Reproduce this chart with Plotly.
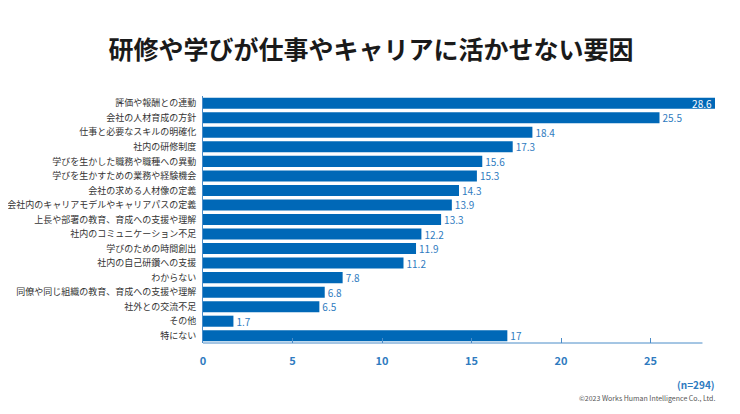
import plotly.graph_objects as go

categories = [
    "評価や報酬との連動",
    "会社の人材育成の方針",
    "仕事と必要なスキルの明確化",
    "社内の研修制度",
    "学びを生かした職務や職種への異動",
    "学びを生かすための業務や経験機会",
    "会社の求める人材像の定義",
    "会社内のキャリアモデルやキャリアパスの定義",
    "上長や部署の教育、育成への支援や理解",
    "社内のコミュニケーション不足",
    "学びのための時間創出",
    "社内の自己研鑽への支援",
    "わからない",
    "同僚や同じ組織の教育、育成への支援や理解",
    "社外との交流不足",
    "その他",
    "特にない",
]
values = [28.6, 25.5, 18.4, 17.3, 15.6, 15.3, 14.3, 13.9, 13.3, 12.2, 11.9, 11.2, 7.8, 6.8, 6.5, 1.7, 17]
tick_vals = [0, 5, 10, 15, 20, 25]

BAR = "#0068b7"
TXT_BLUE = "#2f7bc0"
FONT = "Noto Sans CJK JP"

text_pos = ["inside" if i == 0 else "outside" for i in range(len(values))]
text_col = ["#ffffff" if i == 0 else TXT_BLUE for i in range(len(values))]

fig = go.Figure(go.Bar(
    x=values,
    y=categories,
    orientation="h",
    marker=dict(color=BAR, line=dict(width=0)),
    width=0.76,
    text=[f"{v:g}" for v in values],
    textposition=text_pos,
    insidetextanchor="end",
    constraintext="none",
    textfont=dict(family=FONT, size=10, color=text_col),
    cliponaxis=False,
))

fig.update_layout(
    width=740, height=414,
    margin=dict(l=195, r=33, t=88, b=79),
    paper_bgcolor="white",
    plot_bgcolor="white",
    showlegend=False,
    title=dict(
        text="<b>研修や学びが仕事やキャリアに活かせない要因</b>",
        x=0.4905, xanchor="center", y=0.899, yanchor="middle",
        font=dict(family=FONT, size=25, color="#1a1a1a"),
    ),
    xaxis=dict(
        range=[0, 28.6],
        tickvals=tick_vals,
        ticks="inside", ticklen=5, tickcolor="#4a8cc8", tickwidth=1,
        showgrid=False, zeroline=False, showline=False,
        tickfont=dict(family=FONT, size=11, color=TXT_BLUE, weight="bold"),
        ticklabelstandoff=10,
        automargin=False,
    ),
    yaxis=dict(
        autorange="reversed",
        showgrid=False, zeroline=False,
        showline=True, linecolor="#4a8cc8", linewidth=1,
        ticks="", ticklabelstandoff=4,
        tickfont=dict(family=FONT, size=9, color="#333333"),
        automargin=False,
    ),
    font=dict(family=FONT),
)

fig.add_shape(type="line", xref="x", yref="paper", x0=0, x1=27.9, y0=0, y1=0,
              line=dict(color="#4a8cc8", width=1))

fig.add_annotation(text="<b>(n=294)</b>", xref="paper", yref="paper", x=1.004, y=-0.17,
                   xanchor="right", yanchor="middle", showarrow=False,
                   font=dict(family=FONT, size=10, color=TXT_BLUE))
fig.add_annotation(text="©2023 Works Human Intelligence Co., Ltd.", xref="paper", yref="paper",
                   x=1.004, y=-0.223, xanchor="right", yanchor="middle", showarrow=False,
                   font=dict(family=FONT, size=7, color="#555555"))

fig.write_html("out.html")
